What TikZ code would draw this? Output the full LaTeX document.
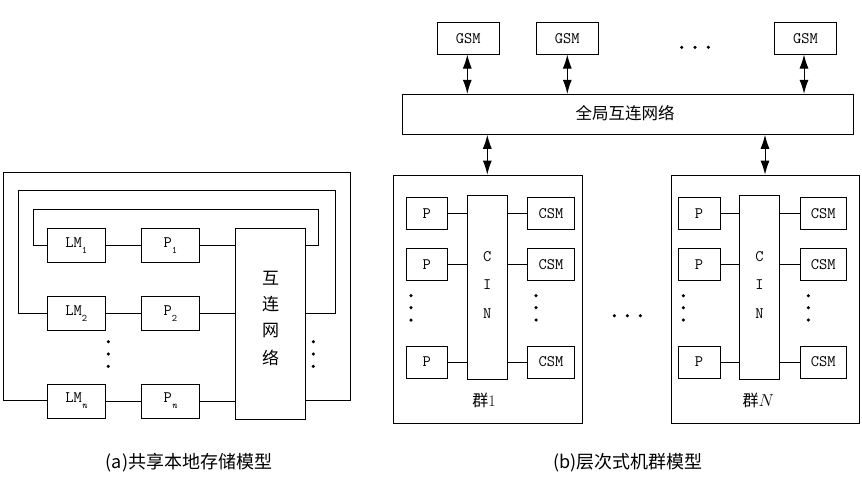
\documentclass[tikz,border=0pt]{standalone}
\usepackage{fontspec}
\newfontfamily\cjk{Noto Sans CJK SC}
\usetikzlibrary{arrows.meta}
\tikzset{
  box/.style={draw, line width=0.9pt, inner sep=0pt, font=\ttfamily\fontsize{16}{16}\selectfont},
  wire/.style={line width=0.9pt},
  dbl/.style={line width=1pt, {Latex[length=14pt,width=9pt]}-{Latex[length=14pt,width=9pt]}},
  dotn/.style={circle, fill, inner sep=0pt, minimum size=3.5pt},
  letter/.style={font=\ttfamily\fontsize{16}{16}\selectfont},
}
\newcommand{\subl}[1]{\raisebox{-6pt}{\fontsize{10}{10}\selectfont #1}}
\begin{document}
\begin{tikzpicture}[x=1pt,y=-1pt]
\useasboundingbox (0,0) rectangle (862,485);
% ---------- (a) ----------
\node[box, minimum width=57.7pt, minimum height=34pt] (lm1) at (76.2,245.3) {LM\subl{1}};
\node[box, minimum width=57.7pt, minimum height=34pt] (lm2) at (76.2,313.3) {LM\subl{2}};
\node[box, minimum width=57.7pt, minimum height=34pt] (lmn) at (76.2,401) {LM\subl{\itshape n}};
\node[box, minimum width=57.3pt, minimum height=34pt] (p1) at (170.3,245.3) {P\subl{1}};
\node[box, minimum width=57.3pt, minimum height=34pt] (p2) at (170.3,313.3) {P\subl{2}};
\node[box, minimum width=57.3pt, minimum height=34pt] (pn) at (170.3,401) {P\subl{\itshape n}};
\node[box, minimum width=70pt, minimum height=191pt] (net) at (270.7,323.8) {};
\node[font=\cjk\fontsize{17}{17}\selectfont] (t1) at (270.7,278) {互};
\node[font=\cjk\fontsize{17}{17}\selectfont] (t2) at (270.7,304) {连};
\node[font=\cjk\fontsize{17}{17}\selectfont] (t3) at (270.7,330.5) {网};
\node[font=\cjk\fontsize{17}{17}\selectfont] (t4) at (270.7,357.5) {络};
\draw[wire] (lm1) -- (p1); \draw[wire] (p1) -- (net.west |- p1);
\draw[wire] (lm2) -- (p2); \draw[wire] (p2) -- (net.west |- p2);
\draw[wire] (lmn) -- (pn); \draw[wire] (pn) -- (net.west |- pn);
\coordinate (c1a) at (33.3,209.3);  \coordinate (c1b) at (318.3,245.3);
\coordinate (c2a) at (18.3,190.7);  \coordinate (c2b) at (335,313.3);
\coordinate (c3a) at (3.3,172);     \coordinate (c3b) at (350,400);
\draw[wire] (lm1.west) -| (c1a) -| (c1b) -- (net.east |- c1b);
\draw[wire] (lm2.west) -| (c2a) -| (c2b) -- (net.east |- c2b);
\draw[wire] (lmn.west |- c3b) -| (c3a) -| (c3b) -- (net.east |- c3b);
\node[dotn] (da1) at (108.3,341.7) {}; \node[dotn] (da2) at (108.3,354) {}; \node[dotn] (da3) at (108.3,366.3) {};
\node[dotn] (db1) at (313.3,341.7) {}; \node[dotn] (db2) at (313.3,354) {}; \node[dotn] (db3) at (313.3,366.3) {};
\node[font=\cjk\fontsize{18}{18}\selectfont] (capa) at (189,463) {(a)共享本地存储模型};
% ---------- (b) ----------
\node[box, minimum width=61.7pt, minimum height=31.7pt] (g1) at (468.2,38.2) {GSM};
\node[box, minimum width=62.3pt, minimum height=31.7pt] (g2) at (567.2,38.2) {GSM};
\node[box, minimum width=62.3pt, minimum height=31.7pt] (g3) at (805.5,38.2) {GSM};
\node[dotn] (gd1) at (681.7,47.3) {}; \node[dotn] (gd2) at (695,47.3) {}; \node[dotn] (gd3) at (708.3,47.3) {};
\node[box, minimum width=451pt, minimum height=40pt] (gnet) at (627.8,114.3) {};
\node[font=\cjk\fontsize{16.5}{16.5}\selectfont] (gt) at (625,113.5) {全局互连网络};
\coordinate (a1) at (467.3,0); \coordinate (a2) at (567.3,0); \coordinate (a3) at (804,0);
\draw[dbl] (g1.south -| a1) -- (gnet.north -| a1);
\draw[dbl] (g2.south -| a2) -- (gnet.north -| a2);
\draw[dbl] (g3.south -| a3) -- (gnet.north -| a3);
\node[box, minimum width=189pt, minimum height=248.3pt] (cl1) at (487.8,299.2) {};
\node[box, minimum width=187.3pt, minimum height=248.3pt] (clN) at (765.3,299.2) {};
\coordinate (b1) at (487.3,0); \coordinate (b2) at (765,0);
\draw[dbl] (gnet.south -| b1) -- (cl1.north -| b1);
\draw[dbl] (gnet.south -| b2) -- (clN.north -| b2);
\foreach \c/\dx in {1/0, N/272.3}{
  \node[box, minimum width=41.7pt, minimum height=32pt] (pa\c) at (426.8+\dx,213.3) {P};
  \node[box, minimum width=41.7pt, minimum height=32pt] (pb\c) at (426.8+\dx,264.5) {P};
  \node[box, minimum width=41.7pt, minimum height=32pt] (pc\c) at (426.8+\dx,362) {P};
  \node[box, minimum width=40pt, minimum height=184.3pt] (cin\c) at (487.3+\dx,287.2) {};
  \node[letter] (cc\c) at (487.3+\dx,256.7) {C};
  \node[letter] (ci\c) at (487.3+\dx,285) {I};
  \node[letter] (cn\c) at (487.3+\dx,313.3) {N};
  \node[box, minimum width=46.7pt, minimum height=32pt] (sa\c) at (551+\dx,213.3) {CSM};
  \node[box, minimum width=46.7pt, minimum height=32pt] (sb\c) at (551+\dx,264.5) {CSM};
  \node[box, minimum width=46.7pt, minimum height=32pt] (sc\c) at (551+\dx,362) {CSM};
  \draw[wire] (pa\c) -- (cin\c.west |- pa\c);
  \draw[wire] (pb\c) -- (cin\c.west |- pb\c);
  \draw[wire] (pc\c) -- (cin\c.west |- pc\c);
  \draw[wire] (sa\c) -- (cin\c.east |- sa\c);
  \draw[wire] (sb\c) -- (cin\c.east |- sb\c);
  \draw[wire] (sc\c) -- (cin\c.east |- sc\c);
  \node[dotn] (la\c) at (411+\dx,295.7) {}; \node[dotn] (lb\c) at (411+\dx,307.7) {}; \node[dotn] (lc\c) at (411+\dx,320) {};
  \node[dotn] (ra\c) at (536+\dx,295.7) {}; \node[dotn] (rb\c) at (536+\dx,307.7) {}; \node[dotn] (rc\c) at (536+\dx,320) {};
}
\node[font=\cjk\fontsize{16}{16}\selectfont] (lab1) at (484,400) {群\rmfamily 1};
\node[font=\cjk\fontsize{16}{16}\selectfont] (labN) at (758.3,400) {群$N$};
\node[dotn] (md1) at (614.3,315.7) {}; \node[dotn] (md2) at (627.3,315.7) {}; \node[dotn] (md3) at (640.3,315.7) {};
\node[font=\cjk\fontsize{18}{18}\selectfont] (capb) at (628,463) {(b)层次式机群模型};
\end{tikzpicture}
\end{document}
